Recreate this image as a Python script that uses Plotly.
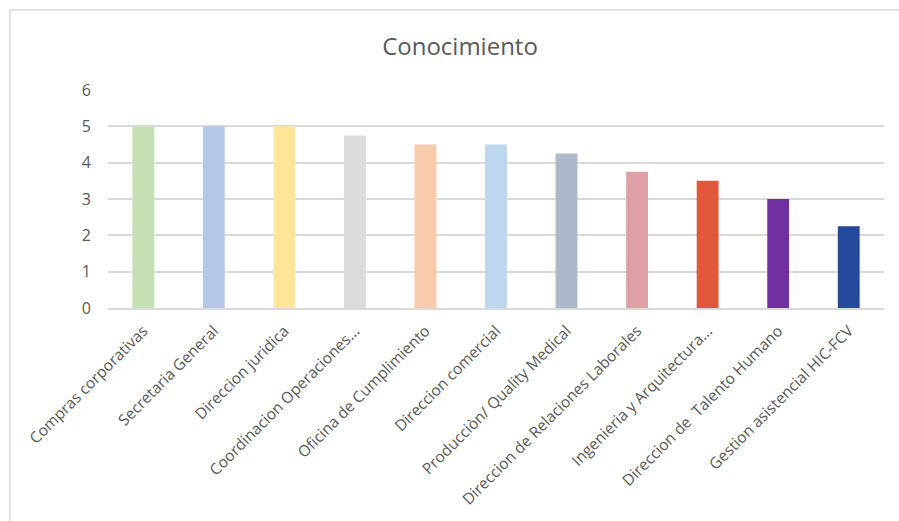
import plotly.graph_objects as go

categories = [
    "Compras corporativas",
    "Secretaria General",
    "Direccion juridica",
    "Coordinacion Operaciones...",
    "Oficina de Cumplimiento",
    "Direccion comercial",
    "Producciòn/ Quality Medical",
    "Direccion de Relaciones Laborales",
    "Ingenieria y Arquitectura...",
    "Direccion de\u00a0 Talento Humano",
    "Gestion asistencial HIC-FCV",
]
values = [5, 5, 5, 4.75, 4.5, 4.5, 4.25, 3.75, 3.5, 3, 2.25]
colors = [
    "#C5E0B4", "#B4C7E7", "#FFE699", "#DBDBDB", "#F8CBAD", "#BDD7EE",
    "#ADB9CA", "#DE9FA7", "#E0573C", "#7030A0", "#264A9B",
]
y_ticks = [0, 1, 2, 3, 4, 5, 6]

W, H = 899, 521
L, R, T, B = 108, 15, 90, 211
pw = W - L - R
ph = H - T - B

def px_x(x):
    return (x - L) / pw

def px_y(y):
    return (H - B - y) / ph

fig = go.Figure(go.Bar(
    x=categories, y=values,
    marker=dict(color=colors, line=dict(width=0)),
))

font_family = "Open Sans, Lato, sans-serif"
fig.update_layout(
    width=W, height=H,
    margin=dict(l=L, r=R, t=T, b=B),
    paper_bgcolor="white", plot_bgcolor="white",
    bargap=0.69,
    showlegend=False,
    title=dict(text="Conocimiento", x=460 / W, xanchor="center",
               y=1 - 47 / H, yanchor="middle",
               font=dict(family=font_family, size=24, color="#595959")),
    xaxis=dict(tickangle=-45, tickfont=dict(family=font_family, size=15.5, color="#595959"),
               showline=True, linecolor="#D9D9D9", linewidth=1.5,
               ticks="", showgrid=False, ticklabelstandoff=6),
    yaxis=dict(range=[0, 6], tickvals=y_ticks, ticks="",
               tickfont=dict(family=font_family, size=16, color="#595959"),
               showgrid=True, gridcolor="#D9D9D9", gridwidth=1.5,
               zeroline=False, showline=False, ticklabelstandoff=16),
    shapes=[
        dict(type="line", xref="paper", yref="paper",
             x0=px_x(10), x1=px_x(905), y0=px_y(9), y1=px_y(9),
             line=dict(color="#D9D9D9", width=1.5)),
        dict(type="line", xref="paper", yref="paper",
             x0=px_x(10), x1=px_x(10), y0=px_y(9), y1=px_y(530),
             line=dict(color="#D9D9D9", width=1.5)),
    ],
)

fig.write_html("out.html")
